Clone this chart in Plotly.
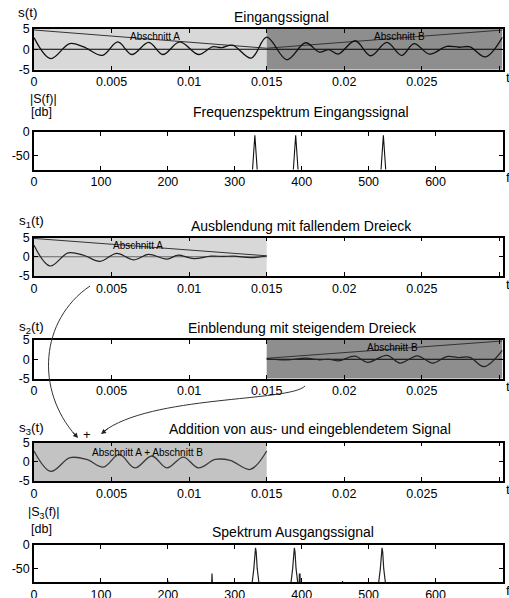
import plotly.graph_objects as go

W, H = 509, 598

# ---------------- data ----------------
# input signal s(t) (extrema)
t_in = [0, 0.00108, 0.0023, 0.0032, 0.0044, 0.0054, 0.0063, 0.0074, 0.0083, 0.0094,
        0.0106, 0.0115, 0.0121, 0.0128, 0.0140, 0.0150, 0.0163, 0.0175, 0.0184, 0.0190,
        0.0196, 0.0207, 0.0217, 0.02275, 0.0237, 0.0245, 0.0255, 0.0266, 0.0274, 0.0281,
        0.0291, 0.0302]
s_in = [2.9, -2.3, 1.4, 0.6, -1.5, 1.8, -1.3, 1.7, -1.3, 1.8,
        -1.3, 0.6, 0.4, 1.0, -2.2, 3.0, -2.6, 1.6, -0.7, -0.1,
        -1.2, 2.1, -1.6, 1.7, -1.5, 1.4, -1.2, 0.7, 0.5, 0.6,
        -1.9, 3.0]

# faded-out signal s1(t)
t_s1 = [0, 0.00103, 0.0022, 0.0032, 0.00426, 0.00533, 0.0064, 0.00738, 0.00856, 0.0093,
        0.0103, 0.0114, 0.0122, 0.0129, 0.0140, 0.0150]
s1 = [3.0, -2.4, 1.0, 0.4, -1.2, 0.9, -0.8, 0.6, -0.6, 0.4,
      -0.5, 0.15, 0.1, 0.15, -0.25, 0.2]

# faded-in signal s2(t)
t_s2 = [0.0150, 0.0163, 0.0175, 0.0184, 0.0190, 0.0196, 0.0207, 0.0215, 0.02275, 0.0236,
        0.0247, 0.0257, 0.0266, 0.0274, 0.0281, 0.0290, 0.0302]
s2 = [0.2, -0.2, 0.3, -0.15, 0.0, -0.4, 0.8, -0.8, 1.0, -1.0,
      0.9, -1.0, 0.7, 0.45, 0.5, -1.9, 2.4]

# sum s3(t)
t_s3 = [0, 0.00108, 0.00232, 0.0034, 0.00447, 0.0055, 0.0065, 0.0076, 0.00856, 0.00963,
        0.0106, 0.01168, 0.01265, 0.01394, 0.0150]
s3 = [2.8, -2.5, 1.05, 0.6, -1.4, 1.9, -1.6, 1.5, -1.6, 1.2,
      -1.6, 0.6, 0.35, -2.0, 2.8]

# input spectrum |S(f)| in dB
f_in = [0, 325.5, 330, 334.5, 386.5, 391, 395.5, 517.5, 522, 526.5, 700]
S_in = [-100, -100, -7, -100, -100, -7, -100, -100, -7, -100, -100]

# output spectrum |S3(f)| in dB
f_out = [0, 199, 200, 201, 265, 266, 267,
         323, 326, 328.5, 330, 331, 332, 333.5, 336, 339,
         381, 384, 386.5, 388, 389, 390, 391.5, 394,
         396, 396.5, 397.5, 398, 460, 461, 462,
         512, 515, 517.5, 519, 520, 521, 522.5, 525, 528, 700]
S_out = [-100, -100, -76, -100, -100, -61, -100,
         -100, -80, -50, -15, -6, -15, -50, -80, -100,
         -100, -80, -50, -15, -6, -15, -50, -80,
         -100, -62, -62, -100, -100, -77, -100,
         -100, -80, -50, -15, -6, -15, -50, -80, -100, -100]

sections = [0.0, 0.015, 0.0302]      # Abschnitt A / Abschnitt B boundaries
tri_fall = [4.75, 0.25]               # falling triangle (window A)
tri_rise = [0.25, 4.75]               # rising triangle (window B)

time_ticks = [0, 0.005, 0.01, 0.015, 0.02, 0.025, 0.03]
time_labels = ["0", "0.005", "0.01", "0.015", "0.02", "0.025", " "]
freq_ticks = [0, 100, 200, 300, 400, 500, 600, 700]
freq_labels = ["0", "100", "200", "300", "400", "500", "600", " "]
amp_ticks = [-5, 0, 5]
amp_labels = ["-5", "0", "5"]
db_ticks = [-50, 0]
db_labels = ["-50", "0"]

titles = ["Eingangssignal", "Frequenzspektrum Eingangssignal",
          "Ausblendung mit fallendem Dreieck", "Einblendung mit steigendem Dreieck",
          "Addition von aus- und eingeblendetem Signal", "Spektrum Ausgangssignal"]

# ---------------- layout helpers ----------------
FONT = "Liberation Sans, Arial, Helvetica, sans-serif"
LIGHT = "#d8d8d8"
DARK = "#8e8e8e"
MID = "#c3c3c3"


def X(p):
    return p / W


def Y(p):
    return 1 - p / H


def sfx(i):
    return "" if i == 1 else str(i)


# pixel (top, bottom) of each panel
panels = [(29, 69.5), (132, 169.5), (237.5, 276), (340, 378.5), (442.5, 481), (545, 582)]
title_y = [17, 112, 226, 328, 429, 532]
x_left, x_right = 34, 502.5

fig = go.Figure()


def add_line(i, x, y, color="black", width=1.2, shape="linear"):
    fig.add_trace(go.Scatter(x=x, y=y, mode="lines", xaxis="x" + sfx(i), yaxis="y" + sfx(i),
                             line=dict(color=color, width=width, shape=shape, smoothing=1.0),
                             hoverinfo="skip", showlegend=False))


# panel 1
add_line(1, [sections[0], sections[2]], [0, 0], "black", 1)
add_line(1, sections[:2], tri_fall, "#333333", 1)
add_line(1, sections[1:], tri_rise, "#333333", 1)
add_line(1, t_in, s_in, "#111111", 1.3, "spline")
# panel 2
add_line(2, f_in, S_in, "#111111", 1.1)
# panel 3
add_line(3, sections[:2], [0, 0], "#666666", 1)
add_line(3, sections[:2], tri_fall, "#333333", 1)
add_line(3, t_s1, s1, "#222222", 1.2, "spline")
# panel 4
add_line(4, sections[1:], [0, 0], "black", 1)
add_line(4, sections[1:], tri_rise, "#333333", 1)
add_line(4, t_s2, s2, "#222222", 1.2, "spline")
# panel 5
add_line(5, t_s3, s3, "#3a3a3a", 1.3, "spline")
# panel 6
add_line(6, f_out, S_out, "#222222", 1.2)

axis_common = dict(showline=True, mirror="ticks", linecolor="black", linewidth=1.5,
                   ticks="inside", ticklen=4, tickwidth=1, tickcolor="black",
                   showgrid=False, zeroline=False, fixedrange=True, automargin=False,
                   tickfont=dict(family=FONT, size=12.5, color="black"))

layout = dict(width=W, height=H, margin=dict(l=0, r=0, t=0, b=0, pad=0),
              paper_bgcolor="white", plot_bgcolor="white", showlegend=False,
              template="none")

for i, (top, bot) in enumerate(panels, start=1):
    spectral = i in (2, 6)
    xa = dict(axis_common, domain=[X(x_left), X(x_right)], anchor="y" + sfx(i))
    ya = dict(axis_common, domain=[Y(bot), Y(top)], anchor="x" + sfx(i))
    if spectral:
        xa.update(range=[0, 700], tickvals=freq_ticks, ticktext=freq_labels)
        ya.update(range=[-79, 0], tickvals=db_ticks, ticktext=db_labels)
    else:
        xa.update(range=[sections[0], sections[2]], tickvals=time_ticks, ticktext=time_labels)
        ya.update(range=[-5, 5], tickvals=amp_ticks, ticktext=amp_labels)
    layout["xaxis" + sfx(i)] = xa
    layout["yaxis" + sfx(i)] = ya

fig.update_layout(**layout)


# shaded sections
def shade(i, x0, x1, color):
    fig.add_shape(type="rect", xref="x" + sfx(i), yref="y" + sfx(i) + " domain",
                  x0=x0, x1=x1, y0=0, y1=1,
                  fillcolor=color, line=dict(width=0), layer="below")


shade(1, sections[0], sections[1], LIGHT)
shade(1, sections[1], sections[2], DARK)
shade(3, sections[0], sections[1], LIGHT)
shade(4, sections[1], sections[2], DARK)
shade(5, sections[0], sections[1], MID)


def text(px, py, s, size=14, xanchor="center", yanchor="middle"):
    fig.add_annotation(x=X(px), y=Y(py), xref="paper", yref="paper", text=s, showarrow=False,
                       xanchor=xanchor, yanchor=yanchor,
                       font=dict(family=FONT, size=size, color="black"))


title_x = [281, 301, 301, 302, 310, 293]
for tx, ty, s in zip(title_x, title_y, titles):
    text(tx, ty, s, 14)

# y-axis labels
text(28, 13, "s(t)", 13.5)
text(43, 99, "|S(f)|", 12.5)
text(41, 112, "[db]", 12.5)
text(31, 222, "s<sub>1</sub>(t)", 13.5)
text(31, 327, "s<sub>2</sub>(t)", 13.5)
text(31, 428, "s<sub>3</sub>(t)", 13.5)
text(44, 513, "|S<sub>3</sub>(f)|", 12.5)
text(41, 529, "[db]", 12.5)

# axis variable labels at the right
for i, (top, bot) in enumerate(panels, start=1):
    text(504, bot + 8, "f" if i in (2, 6) else "t", 13.5, xanchor="left")

# section labels
text(155, 37, "Abschnitt A", 10)
text(399, 37, "Abschnitt B", 10)
text(138, 246, "Abschnitt A", 10)
text(392, 348, "Abschnitt B", 10)
text(147, 452, "Abschnitt A + Abschnitt B", 10)
text(87, 434, "+", 13)


# curved arrows
def path(points):
    (x0, y0), (c1x, c1y), (c2x, c2y), (x1, y1) = points
    return (f"M {X(x0)} {Y(y0)} C {X(c1x)} {Y(c1y)}, {X(c2x)} {Y(c2y)}, {X(x1)} {Y(y1)}")


fig.add_shape(type="path", xref="paper", yref="paper",
              path=path([(90, 286), (40, 320), (35, 390), (76, 436)]),
              line=dict(color="#333333", width=1))
fig.add_shape(type="path", xref="paper", yref="paper",
              path=path([(305, 386), (290, 402), (150, 395), (103, 432)]),
              line=dict(color="#333333", width=1))
fig.add_annotation(x=X(78), y=Y(438), xref="paper", yref="paper", text=" ", showarrow=True,
                   ax=-7, ay=-8, arrowhead=2, arrowsize=1, arrowwidth=1, arrowcolor="#222222",
                   font=dict(size=2))
fig.add_annotation(x=X(101), y=Y(434), xref="paper", yref="paper", text=" ", showarrow=True,
                   ax=9, ay=-7, arrowhead=2, arrowsize=1, arrowwidth=1, arrowcolor="#222222",
                   font=dict(size=2))

fig.write_html("out.html", config={"displayModeBar": False},
               post_script="document.body.style.margin='0';"
                           "document.body.style.overflow='hidden';")
